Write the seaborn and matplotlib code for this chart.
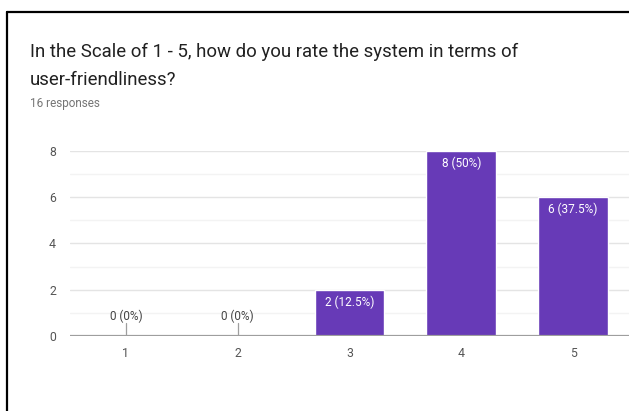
import matplotlib
matplotlib.use('Agg')
import matplotlib.pyplot as plt
import seaborn as sns
import pandas as pd
from matplotlib.lines import Line2D

# Survey data
ratings = ['1', '2', '3', '4', '5']
counts  = [0, 0, 2, 8, 6]
title_lines = ['In the Scale of 1 - 5, how do you rate the system in terms of',
               'user-friendliness?']
subtitle = '16 responses'

BAR_COLOR = '#673ab7'

sns.set_theme(style='white')
plt.rcParams['font.family'] = ['Roboto', 'DejaVu Sans']

df = pd.DataFrame({'rating': ratings, 'count': counts})
total = sum(counts)

fig = plt.figure(figsize=(6.29, 4.11), dpi=100, facecolor='white')
ax = fig.add_axes([70 / 629, 75 / 411, 559 / 629, 185.3 / 411])

sns.barplot(data=df, x='rating', y='count', color=BAR_COLOR, saturation=1,
            width=0.625, ax=ax, zorder=3)

ax.set_xlim(-0.5, 4.5)
ax.set_ylim(0, 8)
ax.set_yticks([0, 2, 4, 6, 8])
ax.set_yticks([1, 3, 5, 7], minor=True)
ax.grid(axis='y', which='major', color='#e4e4e4', lw=1, zorder=0)
ax.grid(axis='y', which='minor', color='#f3f3f3', lw=1, zorder=0)
ax.axhline(0, color='#9e9e9e', lw=1.6, zorder=4)
for s in ax.spines.values():
    s.set_visible(False)
ax.set_xlabel('')
ax.set_ylabel('')
ax.tick_params(axis='both', which='both', length=0, labelsize=8.8, colors='#555555')
ax.tick_params(axis='x', pad=8)
ax.tick_params(axis='y', pad=10)

# value labels
for bar, c in zip(ax.patches, counts):
    cx = bar.get_x() + bar.get_width() / 2
    label = f"{c} ({c / total * 100:g}%)"
    if c > 0:
        ax.annotate(label, (cx, c), xytext=(0, -4), textcoords='offset points',
                    ha='center', va='top', color='white', fontsize=8.5, zorder=5)
    else:
        ax.plot([cx, cx], [0, 0.55], color='#9e9e9e', lw=0.9, zorder=4)
        ax.annotate(label, (cx, 0.55), xytext=(0, 0), textcoords='offset points',
                    ha='center', va='bottom', color='#444444', fontsize=8.5, zorder=5)

# title block
fig.text(30 / 629, 1 - 57 / 411, title_lines[0], fontsize=13.4, color='#212121', va='baseline')
fig.text(30 / 629, 1 - 85 / 411, title_lines[1], fontsize=13.4, color='#212121', va='baseline')
fig.text(30 / 629, 1 - 107 / 411, subtitle, fontsize=8.5, color='#757575', va='baseline')

# card border (cropped on right and bottom)
fig.add_artist(Line2D([6.7 / 629, 1.0], [1 - 11.7 / 411] * 2, color='black', lw=1.6,
                      transform=fig.transFigure))
fig.add_artist(Line2D([6.7 / 629] * 2, [0.0, 1 - 11.7 / 411], color='black', lw=1.6,
                      transform=fig.transFigure))

fig.savefig('out.png', dpi=100, facecolor='white')
